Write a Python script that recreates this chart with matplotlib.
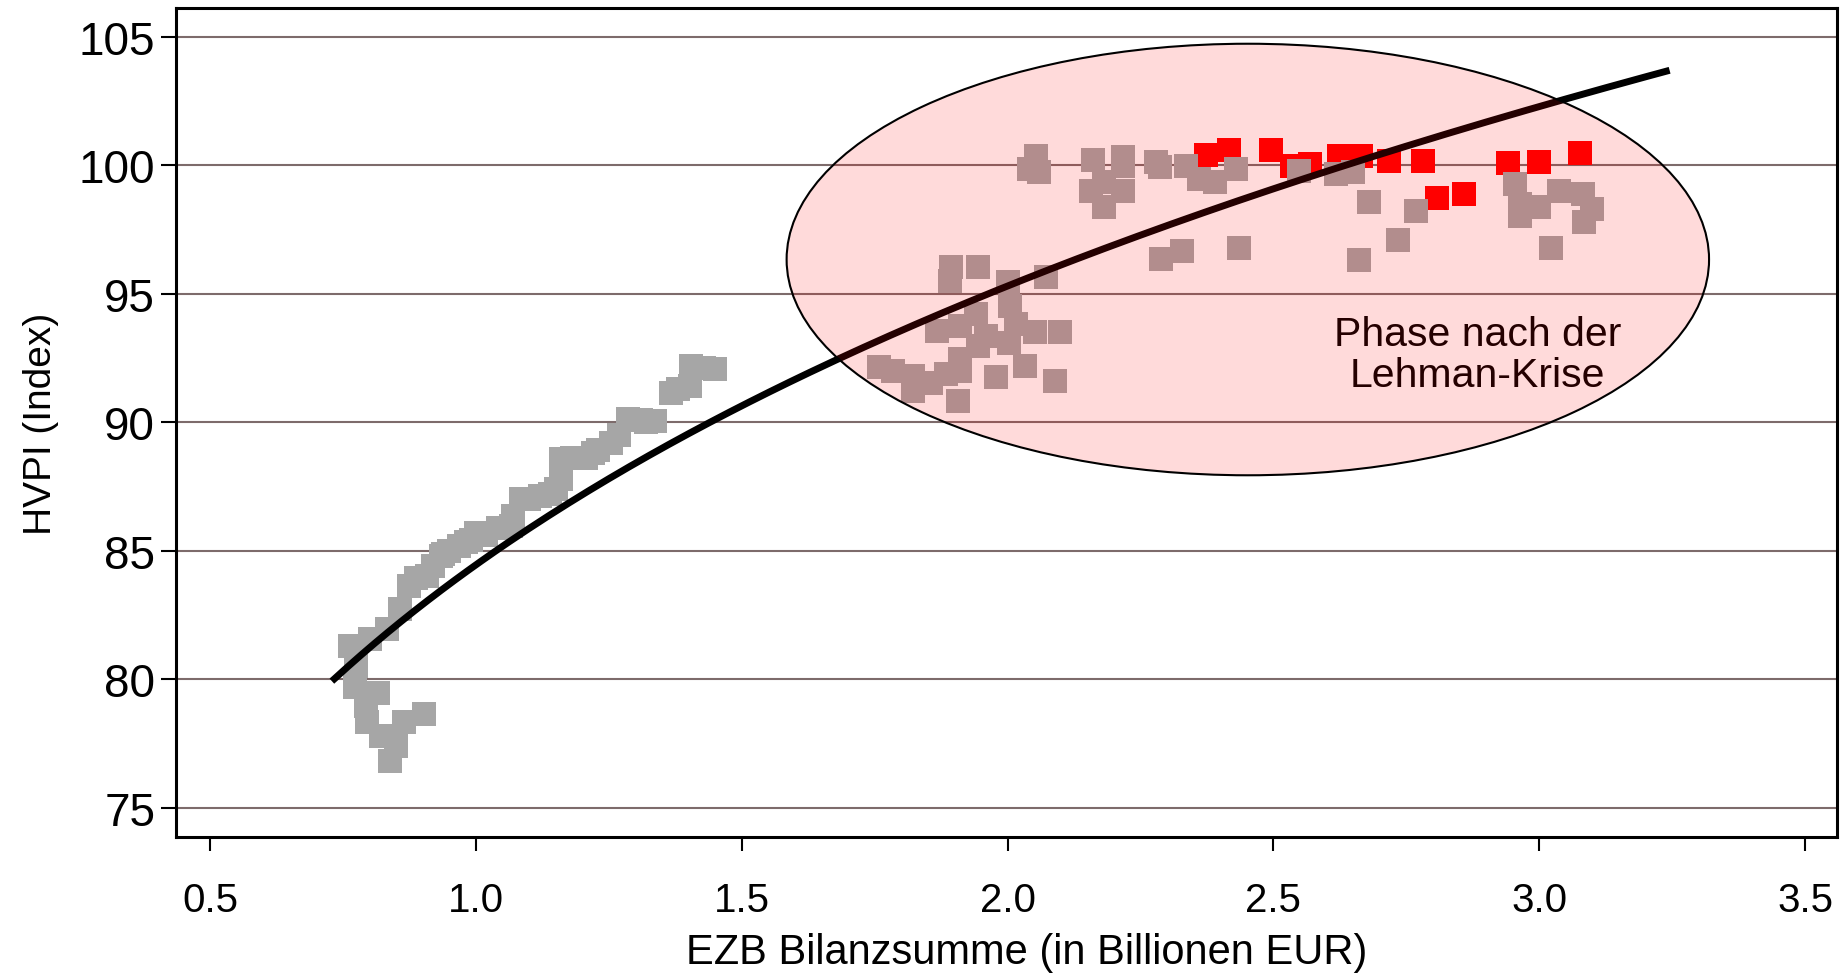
import numpy as np
import matplotlib
matplotlib.use('Agg')
import matplotlib.pyplot as plt
from matplotlib.patches import Ellipse

plt.rcParams['font.family'] = ['Liberation Sans', 'DejaVu Sans']

# Phase vor der Lehman-Krise (EZB Bilanzsumme, HVPI)
vor_x = [0.838, 0.850, 0.822, 0.864, 0.796, 0.902, 0.794, 0.773, 0.816, 0.775,
         0.763, 0.800, 0.832, 0.857, 0.875, 0.888, 0.909, 0.920, 0.935, 0.938,
         0.950, 0.969, 0.982, 0.990, 1.001, 1.007, 1.020, 1.041, 1.067, 1.070,
         1.085, 1.100, 1.120, 1.140, 1.151, 1.161, 1.161, 1.180, 1.208, 1.220,
         1.230, 1.255, 1.270, 1.286, 1.310, 1.320, 1.336, 1.367, 1.380, 1.402,
         1.405, 1.430, 1.449]
vor_y = [76.81, 77.40, 77.81, 78.32, 78.32, 78.66, 78.95, 79.71, 79.48, 80.51,
         81.29, 81.55, 81.94, 82.72, 83.63, 83.95, 84.01, 84.40, 84.79, 84.86,
         85.00, 85.18, 85.32, 85.40, 85.70, 85.70, 85.60, 85.90, 85.96, 86.35,
         87.00, 87.00, 87.13, 87.20, 87.39, 88.56, 87.78, 88.60, 88.62, 88.80,
         88.90, 89.21, 89.50, 90.11, 90.10, 90.00, 90.05, 91.15, 91.30, 91.41,
         92.19, 92.10, 92.06]

# Phase nach der Lehman-Krise
nach_x = [1.894, 1.891, 1.944, 2.000, 2.073, 2.004, 2.016, 2.051, 2.099, 1.941,
          1.867, 1.910, 1.960, 1.944, 2.002, 1.910, 1.910, 1.759, 1.784, 1.822,
          1.822, 1.856, 1.885, 1.906, 1.979, 2.032, 2.090,
          2.054, 2.041, 2.060, 2.160, 2.217, 2.217, 2.157, 2.182, 2.217, 2.182,
          2.279, 2.286, 2.336, 2.361, 2.391, 2.430, 2.289, 2.328, 2.436, 2.549,
          2.618, 2.649, 2.679, 2.768, 2.734, 2.662, 2.955, 2.963, 2.963, 3.000,
          3.038, 3.082, 3.100, 3.085, 3.022]
nach_y = [96.02, 95.50, 96.02, 95.44, 95.63, 94.52, 93.81, 93.49, 93.49, 94.20,
          93.55, 93.75, 93.36, 92.97, 93.10, 92.45, 92.00, 92.15, 92.00, 91.80,
          91.22, 91.54, 91.87, 90.83, 91.74, 92.17, 91.61,
          100.36, 99.85, 99.72, 100.21, 100.30, 99.97, 99.00, 99.33, 99.00, 98.36,
          100.11, 99.92, 99.97, 99.46, 99.33, 99.85, 96.34, 96.67, 96.77, 99.78,
          99.65, 99.72, 98.57, 98.22, 97.09, 96.30, 99.26, 98.48, 98.03, 98.36,
          99.00, 98.87, 98.29, 97.77, 96.77]

# juengste Werte (rot)
neu_x = [2.373, 2.416, 2.496, 2.536, 2.568, 2.624, 2.665, 2.718, 2.781, 2.807,
         2.859, 2.941, 2.999, 3.077]
neu_y = [100.40, 100.60, 100.60, 99.95, 100.04, 100.36, 100.34, 100.17, 100.15, 98.71,
         98.86, 100.07, 100.13, 100.47]

# Trendlinie (Potenzfunktion), Punkte
trend_x = [0.734, 1.051, 1.514, 1.947, 2.5, 3.0, 3.239]
trend_y = [80.0, 85.15, 90.8, 95.0, 99.0, 102.3, 103.6]

fig = plt.figure(figsize=(18.43, 9.79), dpi=100)
ax = fig.add_axes([0.0955, 0.144, 0.9012, 0.8464])

ax.set_xlim(0.436, 3.56)
ax.set_ylim(73.86, 106.1)
ax.set_yticks([75, 80, 85, 90, 95, 100, 105])
ax.set_xticks([0.5, 1.0, 1.5, 2.0, 2.5, 3.0, 3.5])
ax.set_xticklabels(['0.5', '1.0', '1.5', '2.0', '2.5', '3.0', '3.5'])

ax.grid(axis='y', color='#7d6b6b', linewidth=1.5, zorder=0)
ax.set_axisbelow(True)

ax.plot(neu_x, neu_y, 's', color='#ff0000', markersize=17, markeredgewidth=0, zorder=2)
ax.plot(vor_x + nach_x, vor_y + nach_y, 's', color='#a6a6a6', markersize=17,
        markeredgewidth=0, zorder=2.1)

p = np.polyfit(np.log(trend_x), np.log(trend_y), 1)
xx = np.linspace(trend_x[0], trend_x[-1], 200)
ax.plot(xx, np.exp(p[1]) * xx ** p[0], color='black', linewidth=5, zorder=3)

ax.text(2.884, 92.62, 'Phase nach der\nLehman-Krise', ha='center', va='center',
        fontsize=29.5, color='black', linespacing=1.1, zorder=3.5)

ell = Ellipse((2.452, 96.33), 1.735, 16.79, facecolor=(1, 0, 0, 0.145),
              edgecolor='black', linewidth=1.5, zorder=4)
ax.add_patch(ell)

for s in ax.spines.values():
    s.set_linewidth(2.2)
    s.set_color('black')

ax.tick_params(axis='x', direction='out', length=10, width=1.5, labelsize=29, pad=22)
ax.tick_params(axis='y', direction='out', length=11, width=1.5, labelsize=33, pad=4)

ax.set_xlabel('EZB Bilanzsumme (in Billionen EUR)', fontsize=30, labelpad=9)
ax.xaxis.label.set_x(0.512)
ax.set_ylabel('HVPI (Index)', fontsize=28, labelpad=14)

plt.savefig('out.png', dpi=100)
